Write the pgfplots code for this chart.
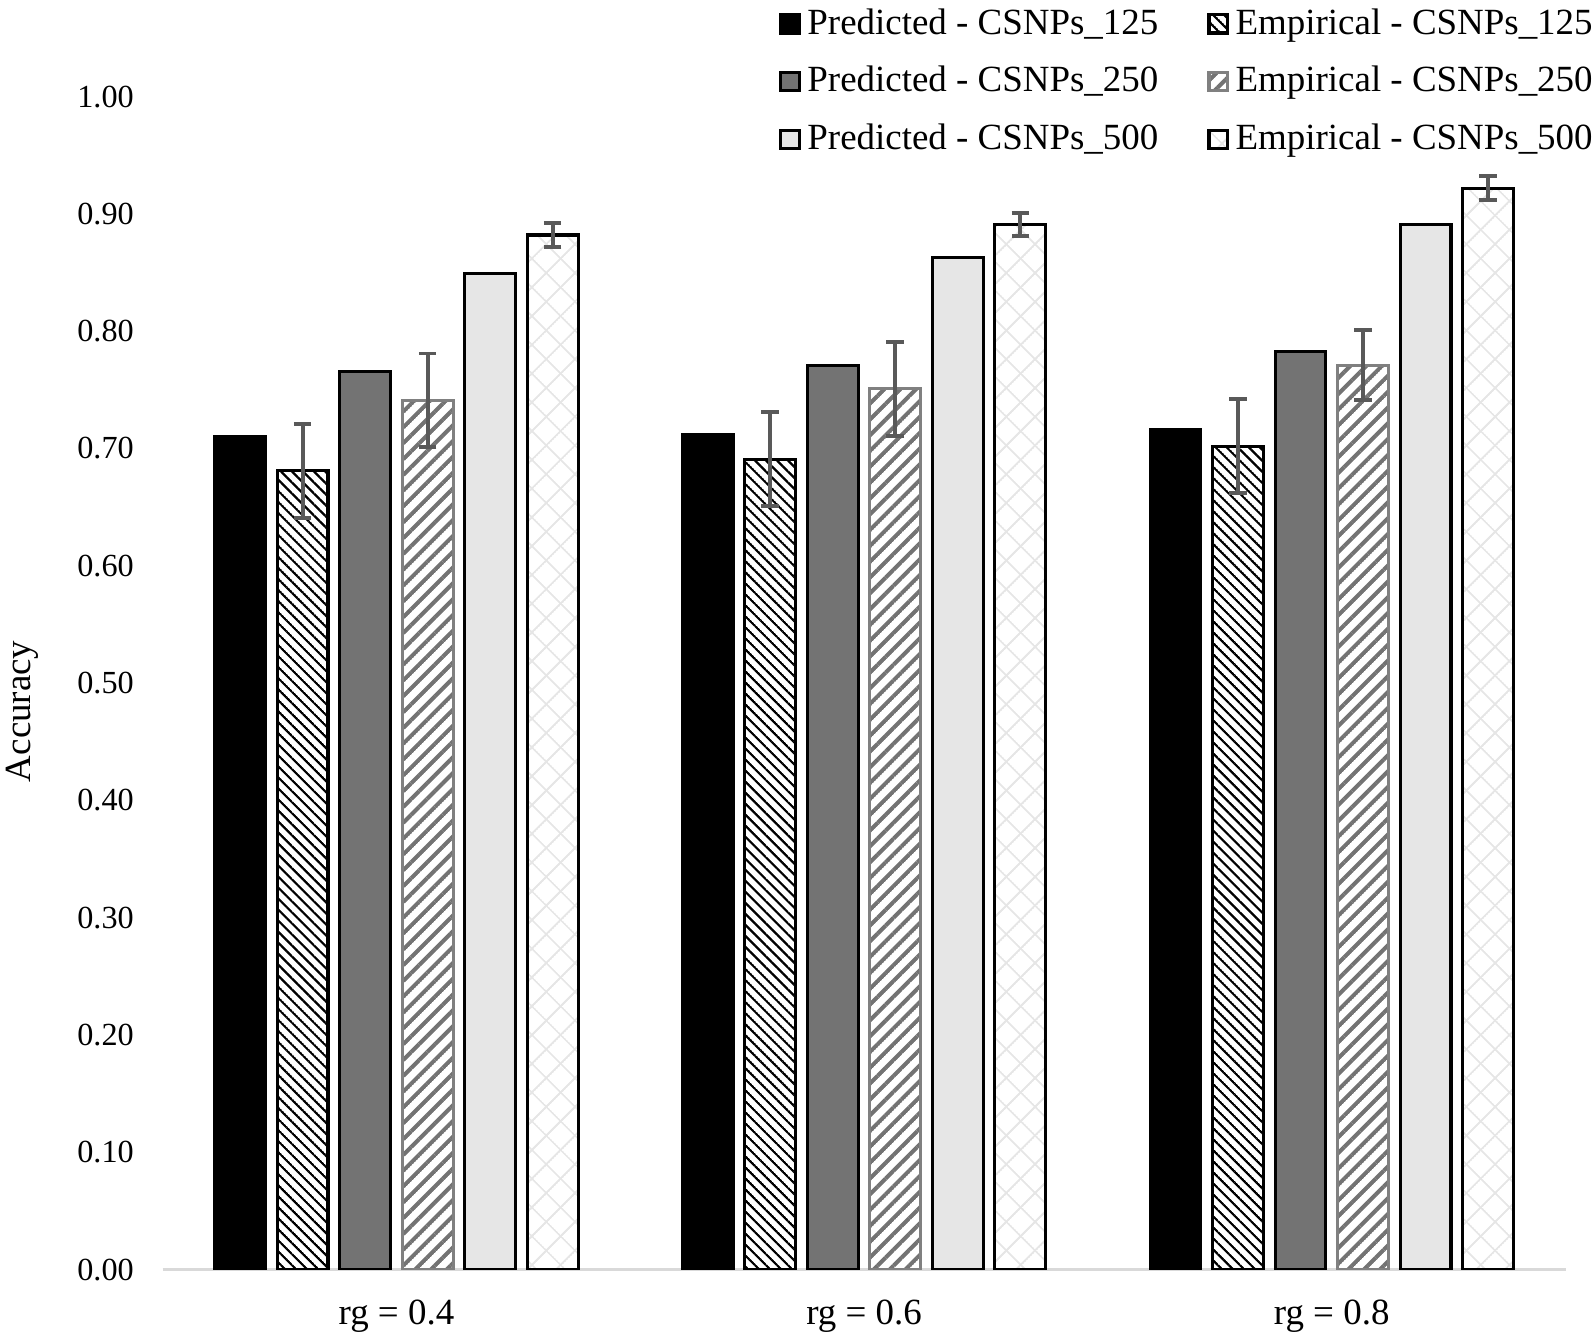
\documentclass[border=0pt]{standalone}
\usepackage{pgfplots}
\pgfplotsset{compat=1.18}
\usepackage{fontspec}
\setmainfont{Liberation Serif}
\usetikzlibrary{patterns.meta}

\tikzdeclarepattern{
  name=lines,
  parameters={
      \pgfkeysvalueof{/pgf/pattern keys/size},
      \pgfkeysvalueof{/pgf/pattern keys/angle},
      \pgfkeysvalueof{/pgf/pattern keys/line width},
  },
  bounding box={
    (0,-0.5*\pgfkeysvalueof{/pgf/pattern keys/line width}) and
    (\pgfkeysvalueof{/pgf/pattern keys/size},
0.5*\pgfkeysvalueof{/pgf/pattern keys/line width})},
  tile size={(\pgfkeysvalueof{/pgf/pattern keys/size},
\pgfkeysvalueof{/pgf/pattern keys/size})},
  tile transformation={rotate=\pgfkeysvalueof{/pgf/pattern keys/angle}},
  defaults={
    size/.initial=5pt,
    angle/.initial=45,
    line width/.initial=.4pt,
  },
  code={
      \draw [line width=\pgfkeysvalueof{/pgf/pattern keys/line width}]
        (0,0) -- (\pgfkeysvalueof{/pgf/pattern keys/size},0);
  },
}

\definecolor{pgray}{HTML}{737373}
\definecolor{plight}{HTML}{E6E6E6}
\definecolor{errgray}{HTML}{595959}
\definecolor{egray}{HTML}{808080}
\definecolor{axgray}{HTML}{D9D9D9}

\begin{document}
\begin{tikzpicture}
\begin{axis}[
  scale only axis, width=414pt, height=346.2pt,
  xmin=-0.5, xmax=2.5, ymin=0, ymax=1,
  axis x line*=bottom, axis y line*=left,
  y axis line style={draw=none},
  x axis line style={draw=axgray, line width=0.8pt},
  major tick length=0pt,
  ytick={0,0.1,0.2,0.3,0.4,0.5,0.6,0.7,0.8,0.9,1},
  yticklabel style={/pgf/number format/fixed, /pgf/number format/fixed zerofill, /pgf/number format/precision=2, /pgf/number format/assume math mode=true, xshift=-5pt, font=\fontsize{9.5}{11}\selectfont},
  xtick={0,1,2}, xticklabels={rg = 0.4, rg = 0.6, rg = 0.8},
  xticklabel style={yshift=-5.3pt, font=\fontsize{10.9}{12}\selectfont},
  ylabel={Accuracy},
  every axis y label/.style={at={(rel axis cs:0,0.476)}, xshift=-41.4pt, rotate=90, anchor=center, font=\fontsize{10.9}{12}\selectfont},
  ybar, bar width=15pt,
  legend columns=2,
  legend cell align=left,
  legend style={at={(rel axis cs:1,1)}, anchor=north east, xshift=10.2pt, yshift=28.2pt,
    draw=none, fill=none, inner xsep=0pt, inner ysep=0pt, row sep=4.0pt,
    font=\fontsize{10.9}{12}\selectfont,
    /tikz/every even column/.append style={column sep=12.5pt}},
  legend image code/.code={\draw[#1] (0pt,-2.7pt) rectangle (5.4pt,2.7pt);},
  error bars/y dir=both, error bars/y explicit,
  error bars/error bar style={color=errgray, line width=1.15pt},
  error bars/error mark options={rotate=90, mark size=2.6pt, line width=1.15pt, color=errgray},
]
\coordinate (O) at (rel axis cs:0,0);
\addplot[bar shift=-46.1pt, fill=black, draw=black, line width=0.9pt]
  coordinates {(0,0.710) (1,0.712) (2,0.716)};
\addlegendentry{Predicted - CSNPs\_125}
\addplot[bar shift=-27.7pt, draw=black, line width=0.9pt, pattern={lines[angle=-45,size=2.3pt,line width=0.65pt]}, pattern color=black]
  coordinates {(0,0.681) +- (0,0.04) (1,0.691) +- (0,0.04) (2,0.702) +- (0,0.04)};
\addlegendentry{Empirical - CSNPs\_125}
\addplot[bar shift=-9.2pt, fill=pgray, draw=black, line width=0.9pt]
  coordinates {(0,0.766) (1,0.771) (2,0.783)};
\addlegendentry{Predicted - CSNPs\_250}
\addplot[bar shift=9.2pt, draw=egray, line width=0.9pt, pattern={lines[angle=45,size=3.3pt,line width=1.2pt]}, pattern color=pgray]
  coordinates {(0,0.741) +- (0,0.04) (1,0.751) +- (0,0.04) (2,0.771) +- (0,0.03)};
\addlegendentry{Empirical - CSNPs\_250}
\addplot[bar shift=27.7pt, fill=plight, draw=black, line width=0.9pt]
  coordinates {(0,0.849) (1,0.863) (2,0.891)};
\addlegendentry{Predicted - CSNPs\_500}
\addplot[bar shift=46.1pt, draw=black, line width=0.9pt, pattern={lines[angle=45,size=6pt,line width=0.5pt]}, pattern color=plight,
  postaction={pattern={lines[angle=-45,size=6pt,line width=0.5pt]}, pattern color=plight}]
  coordinates {(0,0.882) +- (0,0.01) (1,0.891) +- (0,0.01) (2,0.922) +- (0,0.01)};
\addlegendentry{Empirical - CSNPs\_500}
\end{axis}
\pgfresetboundingbox
\path ([shift={(-48pt,-19.8pt)}]O) rectangle ([shift={(422.4pt,374.7pt)}]O);
\end{tikzpicture}
\end{document}
